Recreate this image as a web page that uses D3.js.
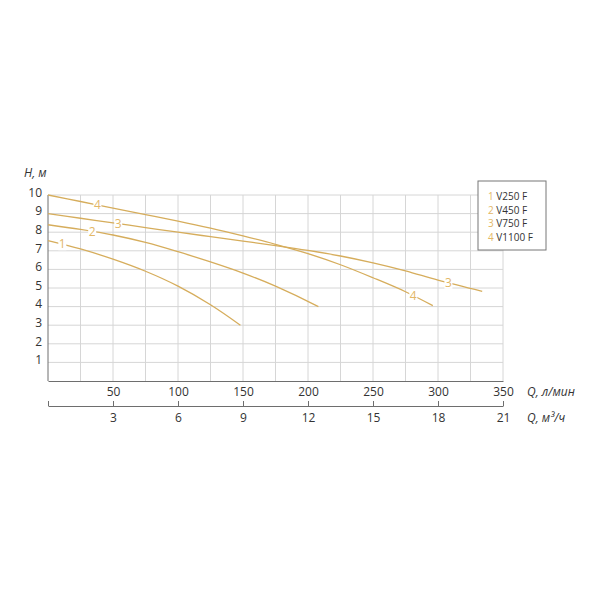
<!DOCTYPE html>
<html>
<head>
<meta charset="utf-8">
<script src="https://cdn.jsdelivr.net/npm/d3@7"></script>
<style>
  body { margin: 0; background: #fff; }
  text { font-family: "Open Sans", "Liberation Sans", sans-serif; }
</style>
</head>
<body>
<div id="chart"></div>
<script>
// Pump curves: flow Q (l/min) vs head H (m)
var pumpNames = ["V250 F", "V450 F", "V750 F", "V1100 F"];
var curveNums = ["1", "2", "3", "4"];

var q1 = [0, 25, 50, 75, 100, 125, 148],
    h1 = [7.55, 7.1, 6.55, 5.9, 5.1, 4.1, 3.0];
var q2 = [0, 25, 50, 75, 100, 125, 150, 175, 208],
    h2 = [8.4, 8.15, 7.85, 7.45, 6.95, 6.4, 5.8, 5.1, 4.0];
var q3 = [0, 25, 50, 75, 100, 125, 150, 175, 200, 225, 250, 275, 300, 334],
    h3 = [9.0, 8.75, 8.5, 8.25, 8.0, 7.76, 7.52, 7.28, 7.02, 6.72, 6.35, 5.92, 5.42, 4.82];
var q4 = [0, 25, 50, 75, 100, 125, 150, 175, 200, 225, 250, 275, 296],
    h4 = [10, 9.65, 9.3, 8.95, 8.6, 8.22, 7.8, 7.35, 6.85, 6.25, 5.55, 4.8, 4.05];

// where the curve numbers sit (Q, l/min)
var labelQ = [[11], [34], [54, 308], [38, 281]];

var qTicks = [50, 100, 150, 200, 250, 300, 350];
var m3Ticks = [3, 6, 9, 12, 15, 18, 21];
var hTicks = [1, 2, 3, 4, 5, 6, 7, 8, 9, 10];

var curveColor = "#d6ad5c",
    numColor = "#e3b767",
    gridColor = "#d6d6d6",
    axisColor = "#6e6e6e";

var margin = { left: 48, top: 195 },
    plotW = 455,
    plotH = 186;

var svg = d3.select("#chart").append("svg")
    .attr("width", 600)
    .attr("height", 600);

var xScale = d3.scaleLinear().domain([0, 350]).range([margin.left, margin.left + plotW]);
var x2Scale = d3.scaleLinear().domain([0, 21]).range([margin.left, margin.left + plotW]);
var yScale = d3.scaleLinear().domain([0, 10]).range([margin.top + plotH, margin.top]);

// grid
svg.append("g").selectAll("line")
    .data(d3.range(25, 351, 25))
    .enter().append("line")
    .attr("x1", function (d) { return xScale(d); })
    .attr("x2", function (d) { return xScale(d); })
    .attr("y1", yScale(0))
    .attr("y2", yScale(10))
    .attr("stroke", gridColor)
    .attr("stroke-width", 1);

svg.append("g").selectAll("line")
    .data(hTicks)
    .enter().append("line")
    .attr("x1", xScale(0))
    .attr("x2", xScale(350))
    .attr("y1", function (d) { return yScale(d); })
    .attr("y2", function (d) { return yScale(d); })
    .attr("stroke", gridColor)
    .attr("stroke-width", 1);

// y axis
var yAxis = d3.axisLeft(yScale).tickValues(hTicks).tickSize(0).tickPadding(6);
var yG = svg.append("g")
    .attr("transform", "translate(" + margin.left + ",0)")
    .call(yAxis);
yG.select(".domain").attr("stroke", axisColor).attr("d", "M0," + yScale(0) + "V" + yScale(10));
yG.selectAll("text").attr("font-size", 12).attr("fill", "#333").attr("dy", "0.1em");

svg.append("text")
    .attr("x", 24).attr("y", 177)
    .attr("font-size", 12).attr("font-style", "italic").attr("fill", "#333")
    .text("H, м");

// primary x axis (l/min)
var xAxis = d3.axisBottom(xScale).tickValues(qTicks).tickSize(0).tickPadding(6);
var xG = svg.append("g")
    .attr("transform", "translate(0," + yScale(0) + ")")
    .call(xAxis);
xG.select(".domain").attr("stroke", axisColor);
xG.selectAll("text").attr("font-size", 12).attr("fill", "#333");

svg.append("text")
    .attr("x", 527).attr("y", 396)
    .attr("font-size", 12).attr("font-style", "italic").attr("fill", "#333")
    .text("Q, л/мин");

// secondary x axis (m3/h)
var axis2Y = 406;
var x2Axis = d3.axisTop(x2Scale).tickValues([0].concat(m3Ticks)).tickSize(5).tickSizeOuter(0).tickFormat(function (d) { return d === 0 ? "" : d; });
var x2G = svg.append("g")
    .attr("transform", "translate(0," + axis2Y + ")")
    .call(x2Axis);
x2G.select(".domain").attr("stroke", axisColor);
x2G.selectAll("line").attr("stroke", axisColor);
x2G.selectAll("text")
    .attr("font-size", 12).attr("fill", "#333")
    .attr("y", 16).attr("dy", "0");

svg.append("text")
    .attr("x", 527).attr("y", 422)
    .attr("font-size", 12).attr("font-style", "italic").attr("fill", "#333")
    .text("Q, м³/ч");

// curves
var curves = [[q1, h1], [q2, h2], [q3, h3], [q4, h4]];
var line = d3.line()
    .x(function (d) { return xScale(d[0]); })
    .y(function (d) { return yScale(d[1]); })
    .curve(d3.curveCatmullRom);

curves.forEach(function (c, i) {
    var pts = c[0].map(function (q, j) { return [q, c[1][j]]; });
    svg.append("path")
        .datum(pts)
        .attr("fill", "none")
        .attr("stroke", curveColor)
        .attr("stroke-width", 1.3)
        .attr("d", line);

    labelQ[i].forEach(function (lq) {
        var h = d3.scaleLinear().domain(c[0]).range(c[1])(lq);
        var g = svg.append("g")
            .attr("transform", "translate(" + xScale(lq) + "," + yScale(h) + ")");
        g.append("rect")
            .attr("x", -4).attr("y", -6).attr("width", 8).attr("height", 12)
            .attr("fill", "#fff");
        g.append("text")
            .attr("text-anchor", "middle").attr("dy", "0.35em")
            .attr("font-size", 12).attr("fill", numColor)
            .text(curveNums[i]);
    });
});

// legend
var legend = svg.append("g").attr("transform", "translate(478,181)");
legend.append("rect")
    .attr("width", 68).attr("height", 69)
    .attr("fill", "#fff")
    .attr("stroke", "#777").attr("stroke-width", 1);

pumpNames.forEach(function (name, i) {
    var row = legend.append("text")
        .attr("x", 10).attr("y", 19 + i * 13.6)
        .attr("font-size", 10);
    row.append("tspan").attr("fill", numColor).text(curveNums[i] + " ");
    row.append("tspan").attr("fill", "#333").text(name);
});
</script>
</body>
</html>
